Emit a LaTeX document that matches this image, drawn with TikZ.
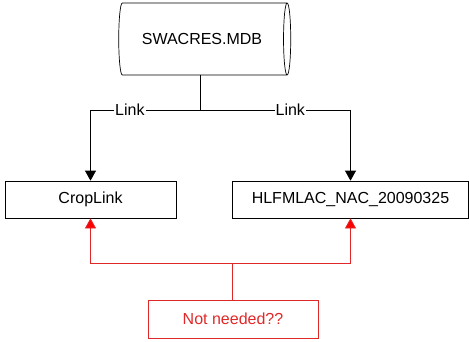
\documentclass[tikz,border=0pt]{standalone}
\usepackage{fontspec}
\setmainfont{Liberation Sans}
\usepackage{xcolor}
\usetikzlibrary{shapes.geometric, arrows.meta, positioning, calc}
\definecolor{notered}{RGB}{225,40,40}
\tikzset{
	dbnode/.style={cylinder, draw, line width=0.7pt, aspect=0.4, minimum width=72pt, minimum height=172pt, font=\fontsize{16}{19}\selectfont},
	tablebox/.style={rectangle, draw, line width=0.7pt, minimum height=37pt, text centered, font=\fontsize{16}{19}\selectfont},
	notebox/.style={rectangle, draw=notered, text=notered, line width=0.7pt, minimum width=170pt, minimum height=38pt, font=\fontsize{16}{19}\selectfont},
	line/.style={draw, line width=0.7pt},
	linkline/.style={draw, line width=0.7pt, -{Triangle[length=10pt, width=11pt]}},
	redline/.style={draw=notered, line width=0.7pt, -{Triangle[length=10pt, width=11pt, fill=red]}}
}

\begin{document}
\begin{tikzpicture}[x=1pt, y=1pt]
	% --- Canvas ---
	\useasboundingbox (0,0) rectangle (469,341);
	
	% --- Nodes ---
	\node[dbnode] (db) at (202,302) {SWACRES.MDB};
	\node[tablebox, minimum width=171pt] (crop) at (90.5,141.5) {CropLink};
	\node[tablebox, minimum width=236pt] (hlf) at (350.5,141.5) {HLFMLAC\_NAC\_20090325};
	\node[notebox] (note) at (233,22) {Not needed??};
	
	% --- Junctions ---
	\coordinate (split) at (200,231);
	\coordinate (join) at (232,78);
	
	% --- Links from the database ---
	\draw[line] (db.south -| split) -- (split);
	\draw[linkline] (split) -| node[pos=0.32, fill=white, inner sep=1pt] {\fontsize{16}{19}\selectfont Link} (crop.north);
	\draw[linkline] (split) -| node[pos=0.30, fill=white, inner sep=1pt] {\fontsize{16}{19}\selectfont Link} (hlf.north);
	
	% --- Note ---
	\draw[draw=notered, line width=0.7pt] (note.north -| join) -- (join);
	\draw[redline] (join) -| (crop.south);
	\draw[redline] (join) -| (hlf.south);
	
\end{tikzpicture}
\end{document}
